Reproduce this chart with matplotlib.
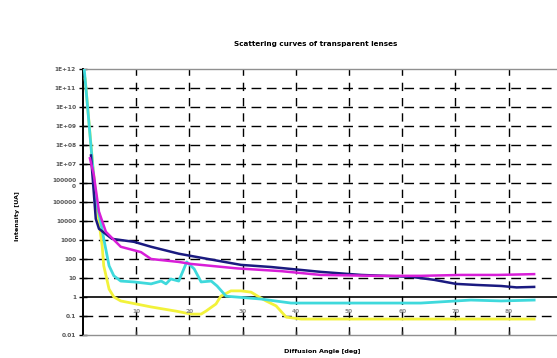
import matplotlib
matplotlib.use("Agg")
import matplotlib.pyplot as plt
import numpy as np

# ---- data ----
navy_x = [1.5, 2.4, 3.0, 5.45, 9.6, 12.8, 18.0, 20.3, 29.7, 35.3, 44.7, 52.3, 61.7, 66.0, 70.1, 74.0, 78.6, 81.5, 84.8]
navy_y = [2.8e7, 1.3e4, 3.9e3, 1.15e3, 8.0e2, 4.4e2, 1.9e2, 1.45e2, 4.9e1, 3.8e1, 2.1e1, 1.45e1, 1.15e1, 8.0, 4.9, 4.3, 3.8, 3.2, 3.4]

mag_x = [1.3, 2.0, 3.0, 4.3, 7.1, 10.9, 12.8, 18.0, 20.3, 29.0, 37.2, 44.7, 55.0, 63.5, 71.1, 78.0, 84.8]
mag_y = [2.0e7, 3.0e6, 3.1e4, 2.7e3, 4.4e2, 2.3e2, 1.0e2, 7.0e1, 5.5e1, 3.2e1, 2.3e1, 1.45e1, 1.3e1, 1.3e1, 1.45e1, 1.45e1, 1.6e1]

cyan_x = [0.2, 0.56, 1.7, 2.4, 3.4, 3.9, 4.9, 5.8, 7.1, 9.6, 12.8, 14.7, 15.6, 16.5, 18.0, 19.5, 20.9, 22.2, 24.1, 25.2, 26.9, 28.8, 33.5, 39.1, 50.4, 63.5, 72.9, 78.6, 84.8]
cyan_y = [1.2e12, 9.5e10, 1.9e7, 1.5e5, 7.0e3, 1.15e3, 4.4e1, 1.3e1, 6.9, 6.2, 4.9, 6.9, 4.9, 8.9, 6.9, 7.0e1, 3.0e1, 6.2, 6.9, 3.8, 1.1, 1.0, 0.78, 0.48, 0.48, 0.48, 0.69, 0.62, 0.69]

yel_x = [0.4, 1.9, 2.8, 3.6, 3.9, 4.9, 5.8, 7.1, 12.8, 17.5, 20.3, 22.2, 23.1, 25.0, 25.9, 27.8, 29.7, 31.6, 33.1, 34.4, 36.3, 38.2, 41.0, 63.5, 84.8]
yel_y = [3.0e11, 5.6e6, 2.4e4, 4.9e2, 4.4e1, 2.6, 1.0, 0.62, 0.30, 0.18, 0.126, 0.126, 0.18, 0.43, 1.1, 2.1, 2.1, 1.8, 1.0, 0.62, 0.34, 0.087, 0.069, 0.069, 0.069]

x_ticks = [10, 20, 30, 40, 50, 60, 70, 80]
y_ticks = [1e-2, 1e-1, 1, 10, 100, 1e3, 1e4, 1e5, 1e6, 1e7, 1e8, 1e9, 1e10, 1e11, 1e12]
y_labels = ["0.01", "0.1", "1", "10", "100", "1000", "10000", "100000", "100000\n0",
            "1E+07", "1E+08", "1E+09", "1E+10", "1E+11", "1E+12"]

title = "Scattering curves of transparent lenses"
xlabel = "Diffusion Angle [deg]"
ylabel = "Intensity [UA]"

# ---- figure ----
W, H = 557, 358
fig = plt.figure(figsize=(W / 100, H / 100), dpi=100)
left_px, right_px, top_px, bot_px = 83, 557, 69, 335
ax = fig.add_axes([left_px / W, 1 - bot_px / H, (right_px - left_px) / W, (bot_px - top_px) / H])

ax.set_yscale("log")
ax.set_ylim(1e-2, 1e12)
ax.set_xlim(0, (right_px - left_px) / 5.32)

# grid
for yv in y_ticks:
    if yv in (1, 1e12, 1e-2):
        continue
    ax.axhline(yv, color="black", lw=1.0, dashes=(7, 4), zorder=1)
for xv in x_ticks:
    ax.axvline(xv, color="black", lw=1.0, dashes=(6, 5), zorder=1)
ax.axhline(1, color="black", lw=1.2, zorder=1)

# series
ax.plot(yel_x, yel_y, color="#f2f23a", lw=2.0, zorder=3)
ax.plot(cyan_x, cyan_y, color="#3fd9dc", lw=2.0, zorder=4)
ax.plot(navy_x, navy_y, color="#1a1a80", lw=1.8, zorder=5)
ax.plot(mag_x, mag_y, color="#d81ed8", lw=1.8, zorder=6)

# spines
ax.spines["right"].set_visible(False)
ax.spines["top"].set_color("#909090")
ax.spines["top"].set_linewidth(1.0)
ax.spines["bottom"].set_color("#909090")
ax.spines["bottom"].set_linewidth(1.0)
ax.spines["left"].set_color("black")
ax.spines["left"].set_linewidth(1.4)

ax.set_yticks(y_ticks)
ax.set_yticklabels(y_labels, fontsize=4.2, fontweight="bold", color="#555555", linespacing=1.0)
ax.yaxis.set_minor_locator(matplotlib.ticker.NullLocator())
ax.tick_params(axis="y", direction="inout", length=6, width=1.0, pad=2)

ax.set_xticks(x_ticks)
ax.set_xticklabels([])
ax.tick_params(axis="x", direction="in", length=3, width=1.0, color="#333333")

# category labels next to axis crossing at 1
for xv in x_ticks:
    ax.text(xv, 10 ** -0.74, str(xv), ha="center", va="center", fontsize=4.2,
            fontweight="bold", color="#8a8a8a", zorder=7)

fig.text(316 / W, 1 - 44 / H, title, ha="center", va="center", fontsize=5.2, fontweight="bold")
fig.text(322 / W, 1 - 352 / H, xlabel, ha="center", va="center", fontsize=4.6, fontweight="bold")
fig.text(17 / W, 1 - 216 / H, ylabel, ha="center", va="center", rotation=90, fontsize=4.6, fontweight="bold")

fig.savefig("out.png", dpi=100, facecolor="white")
